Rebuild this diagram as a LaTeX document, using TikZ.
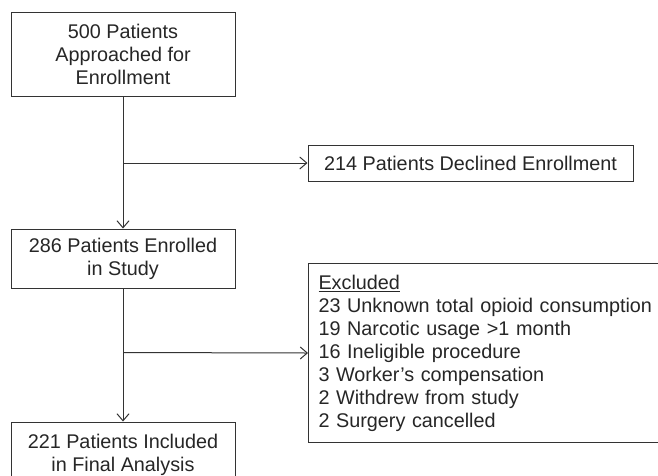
\documentclass[tikz,border=0pt]{standalone}
\usepackage{fontspec}
\setmainfont{Liberation Sans}
\usetikzlibrary{arrows.meta}

\begin{document}
\begin{tikzpicture}
          [x = 1pt, y = -1pt,
           every node/.style = {font = \fontsize{19.8}{23}\selectfont, text = black!85, inner sep = 0pt},
           stagebox/.style = {draw = black!80, line width = 1pt, minimum width = 224, align = center},
           flowline/.style = {draw = black!80, line width = 1pt},
           flowarrow/.style = {flowline, -{Straight Barb[length=7pt, width=12pt, line width=1pt]}}]

% Picture frame (the original is cut on the right and at the bottom)
  \useasboundingbox (0,0) rectangle (658,475);
  \clip (0,0) rectangle (658,475);

% Main stages
  \node [stagebox, minimum height = 84] (approached) at (123,54)
        {500 Patients\\Approached for\\Enrollment};
  \node [stagebox, minimum height = 59] (enrolled) at (123,258.5)
        {286 Patients Enrolled\\in Study};
  \node [stagebox, minimum height = 66] (included) at (123,455)
        {221 Patients Included\\in Final Analysis};

% Side boxes
  \node [stagebox, minimum width = 325, minimum height = 36] (declined) at (470.5,163)
        {214 Patients Declined Enrollment};
  \node [stagebox, anchor = north west, minimum width = 370, minimum height = 179,
         align = left, text width = 350] (excluded) at (308,263)
        {\underline{Excluded}\\
         23 Unknown total opioid consumption\\
         19 Narcotic usage >1 month\\
         16 Ineligible procedure\\
         3 Worker’s compensation\\
         2 Withdrew from study\\
         2 Surgery cancelled};

% Branch points on the main line
  \coordinate (split1) at (123,163);
  \coordinate (split2) at (123,352.5);

% Connectors
  \draw [flowarrow] (approached) -- (enrolled);
  \draw [flowarrow] (split1) -- (declined.west);
  \draw [flowarrow] (enrolled) -- (included);
  \draw [flowarrow] (split2) -- (excluded.west);

\end{tikzpicture}
\end{document}
